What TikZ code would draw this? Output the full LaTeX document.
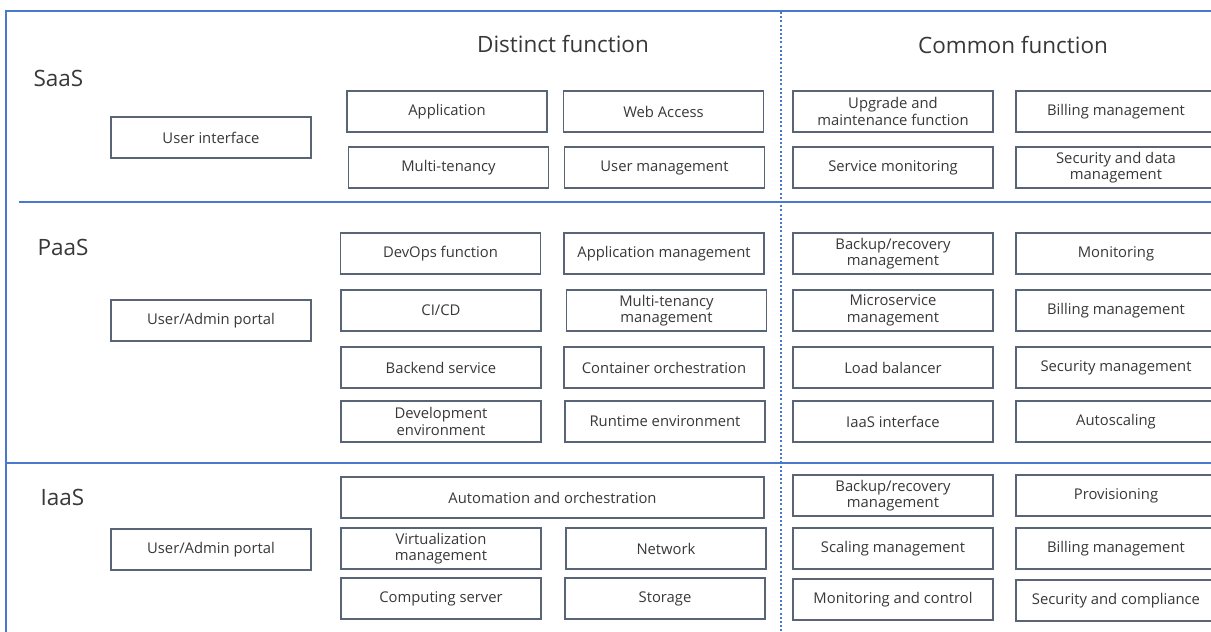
\documentclass[tikz,border=0pt]{standalone}
\usepackage{fontspec}
\setmainfont{Open Sans}
\definecolor{frameblue}{HTML}{4A78CC}
\definecolor{boxline}{HTML}{5A6477}
\definecolor{txt}{HTML}{383838}
\begin{document}
\begin{tikzpicture}[x=1pt,y=-1pt,
  fn/.style={draw=boxline, line width=1.2pt, fill=white, minimum width=200pt,
    minimum height=41pt, inner sep=1pt, align=center, text=txt,
    font=\fontsize{14.8}{16.5}\selectfont},
  layer/.style={text=txt, font=\fontsize{22.5}{26}\selectfont, anchor=west},
  head/.style={text=txt, font=\fontsize{22.5}{26}\selectfont},
  rule/.style={draw=frameblue, line width=2.8pt},
  colsep/.style={draw=frameblue, line width=2.2pt, dash pattern=on 2pt off 2.2pt}]
\useasboundingbox (0,0) rectangle (1211,632);
\begin{scope}
\clip (0,0) rectangle (1211,632);

% frame and separators
\coordinate (tl) at (6,11);
\coordinate (tr) at (1215,11);
\coordinate (bl) at (6,636);
\draw[rule] (tr) -- (tl) -- (bl);
\coordinate (r1l) at (19,202);
\coordinate (r1r) at (1215,202);
\draw[rule] (r1l) -- (r1r);
\coordinate (r2l) at (6,463);
\coordinate (r2r) at (1215,463);
\draw[rule] (r2l) -- (r2r);
\coordinate (cst) at (781,12);
\coordinate (csb) at (781,636);
\draw[colsep] (cst) -- (csb);

% headings
\node[head] (hdist) at (563,44) {Distinct function};
\node[head] (hcomm) at (1013,45) {Common function};
\node[layer] (lsaas) at (30,78) {SaaS};
\node[layer] (lpaas) at (34,247) {PaaS};
\node[layer] (liaas) at (37,497) {IaaS};

% SaaS
\node[fn] (ui) at (211,137.5) {User interface};
\node[fn] (app) at (447,111.5) {Application};
\node[fn] (web) at (663.5,111.5) {Web Access};
\node[fn] (mt) at (448.5,167.5) {Multi-tenancy};
\node[fn] (um) at (664.5,167.5) {User management};
\node[fn] (upg) at (893,111.5) {Upgrade and\\maintenance function};
\node[fn] (billA) at (1116,111.5) {Billing management};
\node[fn] (svcmon) at (893,167.5) {Service monitoring};
\node[fn] (secdata) at (1116,167.5) {Security and data\\management};

% PaaS
\node[fn] (portalA) at (211,320.5) {User/Admin portal};
\node[fn] (devops) at (440.5,253.5) {DevOps function};
\node[fn] (appmgmt) at (664,253.5) {Application management};
\node[fn] (cicd) at (441,310.5) {CI/CD};
\node[fn] (mtm) at (666.5,310.5) {Multi-tenancy\\management};
\node[fn] (backend) at (441,367.5) {Backend service};
\node[fn] (container) at (664,367.5) {Container orchestration};
\node[fn] (devenv) at (441,421.5) {Development\\environment};
\node[fn] (runtime) at (665,421.5) {Runtime environment};
\node[fn] (backupA) at (893,253.5) {Backup/recovery\\management};
\node[fn] (monitor) at (1116,253.5) {Monitoring};
\node[fn] (micro) at (893,310.5) {Microservice\\management};
\node[fn] (billB) at (1116,310.5) {Billing management};
\node[fn] (lb) at (893,367.5) {Load balancer};
\node[fn] (secmgmt) at (1116,367.5) {Security management};
\node[fn] (iaasif) at (893,421.5) {IaaS interface};
\node[fn] (autoscale) at (1116,421.5) {Autoscaling};

% IaaS
\node[fn] (portalB) at (211,549.5) {User/Admin portal};
\node[fn, minimum width=423pt] (auto) at (552.5,497.5) {Automation and orchestration};
\node[fn] (virt) at (441,548.5) {Virtualization\\management};
\node[fn] (net) at (666,548.5) {Network};
\node[fn] (compute) at (441,598.5) {Computing server};
\node[fn] (storage) at (665,598.5) {Storage};
\node[fn] (backupB) at (893,495.5) {Backup/recovery\\management};
\node[fn] (prov) at (1116,495.5) {Provisioning};
\node[fn] (scaling) at (893,548.5) {Scaling management};
\node[fn] (billC) at (1116,548.5) {Billing management};
\node[fn] (monctl) at (893,599.5) {Monitoring and control};
\node[fn] (seccomp) at (1116,600.5) {Security and compliance};
\end{scope}
\end{tikzpicture}
\end{document}
